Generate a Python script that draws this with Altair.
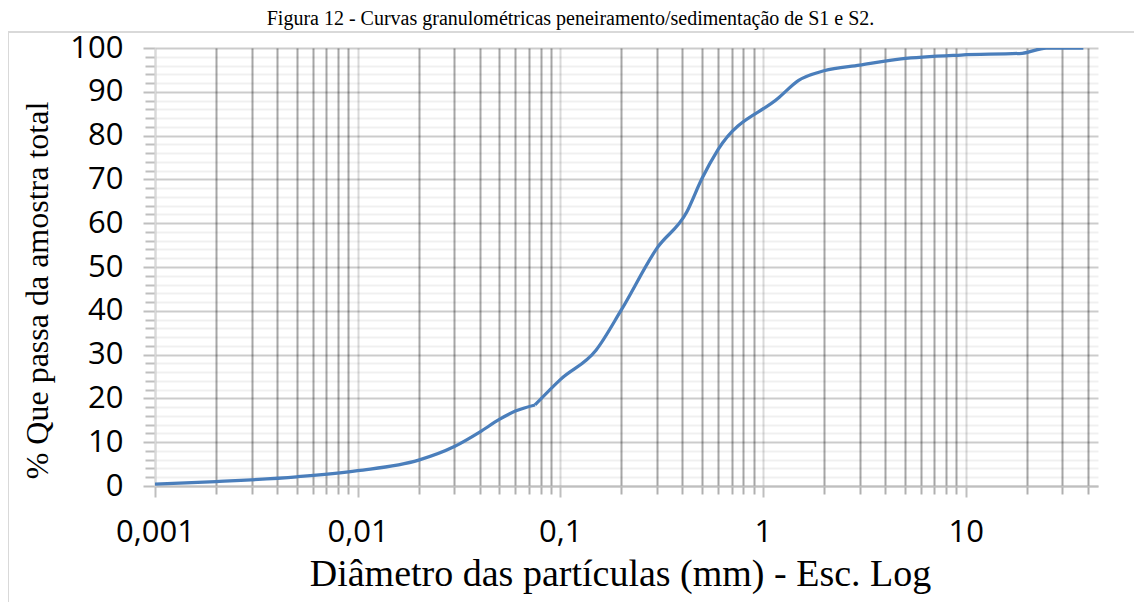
import altair as alt
import pandas as pd

# Particle-size distribution curve (% passing vs diameter, mm)
# sedimentation branch
sed_diam = [0.001, 0.002, 0.005, 0.01, 0.02, 0.03, 0.04, 0.05, 0.06, 0.075]
sed_pass = [0.4, 1.0, 2.1, 3.5, 5.9, 9.0, 12.3, 15.2, 17.1, 18.5]
# sieving branch
sieve_diam = [0.075, 0.1, 0.15, 0.2, 0.3, 0.42, 0.5, 0.6, 1.2, 1.5, 2.0, 3.0, 4.8,
              9.5, 19.0, 25.0, 38.1]
sieve_pass = [18.5, 24.3, 31.0, 40.2, 54.3, 62.5, 70.2, 76.8, 88.7, 92.6, 94.8, 96.1, 97.5,
              98.4, 98.8, 100.0, 100.0]

x_ticks = [round(m * 10 ** k, 6) for k in range(-3, 2) for m in range(1, 10)] + [20, 30, 40]
y_ticks = list(range(0, 101, 2))
x_domain = [0.001, 45]

title_text = "Figura 12 - Curvas granulométricas peneiramento/sedimentação de S1 e S2."
x_title = "Diâmetro das partículas (mm) - Esc. Log"
y_title = "% Que passa da amostra total"

df = pd.concat([
    pd.DataFrame({"d": sed_diam, "p": sed_pass, "fase": "sedimentação"}),
    pd.DataFrame({"d": sieve_diam, "p": sieve_pass, "fase": "peneiramento"}),
], ignore_index=True)

decade = "abs(log(datum.value)/LN10 - round(log(datum.value)/LN10)) < 0.001"
ten = "datum.value % 10 === 0"

x_axis = alt.Axis(
    values=x_ticks,
    labelExpr=f"({decade}) ? replace(toString(datum.value), '.', ',') : ''",
    grid=True,
    gridColor={"condition": {"test": decade, "value": "#D9D9D9"}, "value": "#A6A6A6"},
    gridWidth=2,
    tickColor={"condition": {"test": decade, "value": "#BFBFBF"}, "value": "#B0B0B0"},
    tickWidth=2,
    tickSize={"condition": {"test": decade, "value": 11}, "value": 8},
    domainColor="#BFBFBF",
    domainWidth=2,
    labelFont="Open Sans",
    labelFontSize=31,
    labelColor="#000000",
    labelPadding=20,
    labelOverlap=False,
    labelFlush=False,
    title=x_title,
    titleFont="Liberation Serif",
    titleFontSize=38,
    titleFontWeight="normal",
    titleColor="#000000",
    titleBaseline="alphabetic",
    titleAlign="center",
    titleX=465,
    titleY=99,
)

y_axis = alt.Axis(
    values=y_ticks,
    labelExpr=f"({ten}) ? datum.value : ''",
    grid=True,
    gridColor={"condition": {"test": ten, "value": "rgba(0,0,0,0.2)"}, "value": "rgba(0,0,0,0.06)"},
    gridWidth=2,
    tickColor="#BFBFBF",
    tickWidth=2,
    tickSize={"condition": {"test": ten, "value": 12}, "value": 10},
    domainColor="#D9D9D9",
    domainWidth=2,
    labelFont="Open Sans",
    labelFontSize=31,
    labelColor="#000000",
    labelPadding=20,
    labelOverlap=False,
    labelFlush=False,
    title=y_title,
    titleFont="Liberation Serif",
    titleFontSize=32,
    titleFontWeight="normal",
    titleColor="#000000",
    titleBaseline="alphabetic",
    titleAlign="center",
    titleAngle=270,
    titleX=-108,
    titleY=242,
)

line = alt.Chart(df).mark_line(
    color="#4A7EBB", strokeWidth=3.25, interpolate="monotone", clip=True
).encode(
    x=alt.X("d:Q", scale=alt.Scale(type="log", domain=x_domain), axis=x_axis),
    y=alt.Y("p:Q", scale=alt.Scale(domain=[0, 100], nice=False), axis=y_axis),
    detail="fase:N",
    order="d:Q",
)

frame = alt.Chart(alt.Data(values=[{"f": 1}])).mark_rect(
    filled=False, stroke="#D9D9D9", strokeWidth=2
).encode(
    x=alt.value(-147), y=alt.value(-16), x2=alt.value(1300), y2=alt.value(900)
)

chart = alt.layer(frame, line).properties(
    width=943,
    height=438,
    padding={"left": 147, "top": 40, "right": 36, "bottom": 116},
    autosize=alt.AutoSizeParams(type="none"),
    title=alt.TitleParams(
        text=title_text,
        font="Liberation Serif",
        fontSize=20,
        fontWeight="normal",
        color="#000000",
        anchor="middle",
        frame="group",
        baseline="alphabetic",
        offset=0,
        dy=14,
        dx=-56,
    ),
).configure_view(stroke=None)

chart.save("out.html", embed_options={"renderer": "svg", "actions": False})
